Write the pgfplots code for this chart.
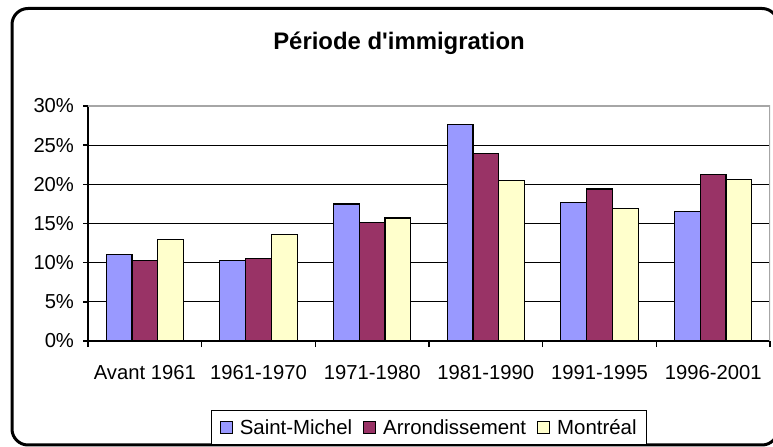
\documentclass[border=0pt]{standalone}
\usepackage{pgfplots}
\pgfplotsset{compat=1.18}
\usepackage{fontspec}
\setmainfont{Liberation Sans}[Ligatures=TeXOff]
\definecolor{cSM}{HTML}{9999FF}
\definecolor{cArr}{HTML}{993366}
\definecolor{cMtl}{HTML}{FFFFCC}
\begin{document}
\begin{tikzpicture}
\useasboundingbox (0,0) rectangle (773bp,447bp);
\begin{scope}
\clip (0,0) rectangle (773bp,447bp);
\draw[line width=3bp, rounded corners=16bp] (12bp,2bp) rectangle (778bp,438.5bp);
\end{scope}
\node[font=\fontsize{24}{28}\selectfont\bfseries] at (399bp,404bp) {Période d'immigration};
\begin{axis}[
  at={(88bp,106bp)}, anchor=south west,
  scale only axis, width=682bp, height=235bp,
  xmin=-0.5, xmax=5.5, ymin=0, ymax=30,
  axis x line*=bottom, axis y line*=left,
  axis line style={line width=1.6bp, black, -},
  ybar=0pt, bar width=25.8bp,
  xtick={0,...,5},
  xticklabels={Avant 1961,1961-1970,1971-1980,1981-1990,1991-1995,1996-2001},
  major x tick style={draw=none},
  minor xtick={-0.5,0.5,...,5.5},
  minor x tick style={line width=1.6bp, black},
  minor tick length=6bp,
  ytick={0,5,...,30},
  yticklabels={0\%,5\%,10\%,15\%,20\%,25\%,30\%},
  major tick length=5bp,
  tick align=outside,
  y tick style={line width=1.6bp, black},
  ymajorgrids, grid style={line width=1bp, black},
  tick label style={font=\fontsize{20.3}{24}\selectfont},
  yticklabel style={xshift=-5.5bp},
  xticklabel style={yshift=-16bp},
  legend style={at={(0.5003,-0.368)}, anchor=center, legend columns=3, draw=black, line width=1.2bp,
    font=\fontsize{20.5}{24}\selectfont, inner xsep=8bp, inner ysep=7bp,
    /tikz/every odd column/.append style={column sep=5bp},
    /tikz/every even column/.append style={column sep=9bp}},
  legend image code/.code={\draw[#1, draw=black, line width=1bp] (0bp,-6bp) rectangle (12bp,6bp);},
]
\addplot[fill=cSM, draw=black, line width=1.2bp] coordinates {(0,11.0) (1,10.3) (2,17.5) (3,27.6) (4,17.7) (5,16.5)};
\addplot[fill=cArr, draw=black, line width=1.2bp] coordinates {(0,10.3) (1,10.5) (2,15.1) (3,23.9) (4,19.4) (5,21.3)};
\addplot[fill=cMtl, draw=black, line width=1.2bp] coordinates {(0,13.0) (1,13.6) (2,15.7) (3,20.5) (4,16.9) (5,20.6)};
\legend{Saint-Michel,Arrondissement,Montréal}
\draw[line width=1.2bp, gray!70] (rel axis cs:0,1) -- (rel axis cs:1,1) -- (rel axis cs:1,0);
\end{axis}
\end{tikzpicture}
\end{document}
